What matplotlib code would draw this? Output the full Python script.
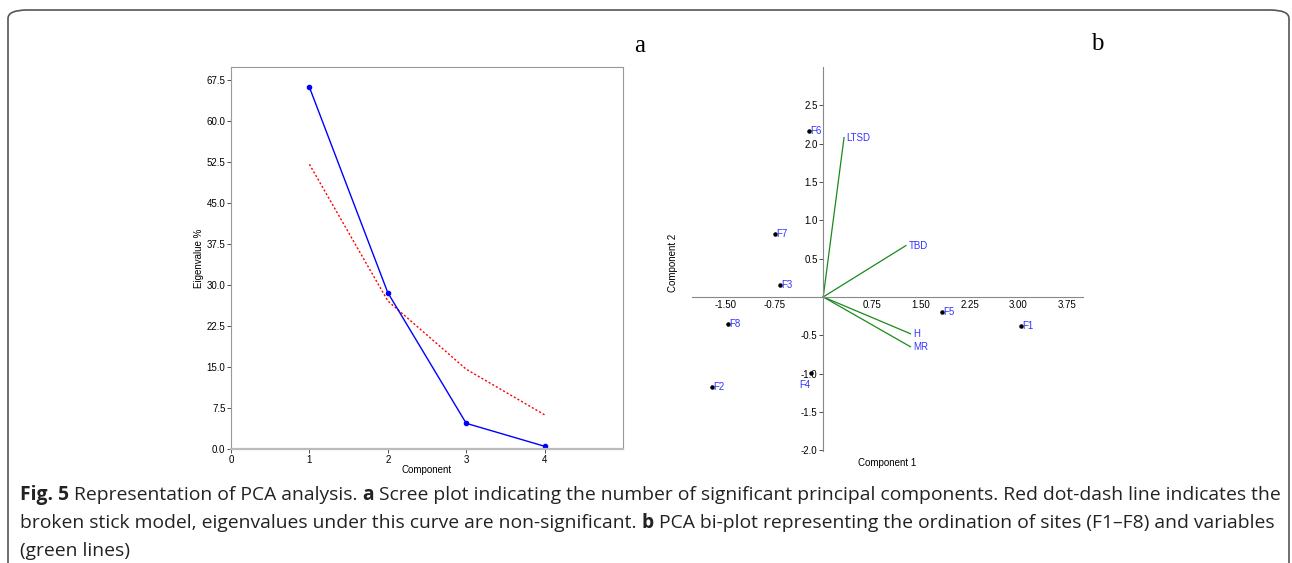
import matplotlib
matplotlib.use("Agg")
import matplotlib.pyplot as plt
from matplotlib.patches import FancyBboxPatch

# scree plot data
components = [1, 2, 3, 4]
eigen_pct = [66.2, 28.6, 4.7, 0.5]
broken_stick = [52.1, 27.1, 14.6, 6.25]

# biplot sites
site_names = ['F1', 'F2', 'F3', 'F4', 'F5', 'F6', 'F7', 'F8']
site_x = [3.04, -1.71, -0.66, -0.18, 1.83, -0.22, -0.74, -1.46]
site_y = [-0.38, -1.17, 0.15, -0.99, -0.20, 2.17, 0.82, -0.35]

# biplot variables (loadings scaled)
var_names = ['LTSD', 'TBD', 'H', 'MR']
var_x = [0.32, 1.27, 1.34, 1.34]
var_y = [2.08, 0.67, -0.48, -0.65]

caption_lines = [
    [('Fig. 5', True), (' Representation of PCA analysis. ', False), ('a', True),
     (' Scree plot indicating the number of significant principal components. Red dot-dash line indicates the', False)],
    [('broken stick model, eigenvalues under this curve are non-significant. ', False), ('b', True),
     (' PCA bi-plot representing the ordination of sites (F1\u2013F8) and variables', False)],
    [('(green lines)', False)],
]

plt.rcParams['font.family'] = ['Liberation Sans', 'DejaVu Sans']

W, H = 1292, 563
fig = plt.figure(figsize=(W / 100, H / 100), dpi=100)

# rounded frame around the figure
frame = FancyBboxPatch((8 / W, -0.05), (1281 / W), 1 - 10 / H + 0.05,
                       boxstyle="round,pad=0,rounding_size=0.015",
                       transform=fig.transFigure, fill=False,
                       edgecolor='#555555', linewidth=1.2)
fig.patches.append(frame)

lab_size = 7

# ---- panel a: scree plot ----
ax1 = fig.add_axes([231 / W, 1 - 449 / H, 392 / W, 382 / H])
ax1.plot(components, broken_stick, color='red', linestyle=(0, (1.5, 1.5)), linewidth=1.0)
ax1.plot(components, eigen_pct, color='#0000ff', linewidth=1.0, marker='o', markersize=3)
ax1.set_xlim(0, 5)
ax1.set_ylim(0, 69.9)
ax1.set_xticks([0, 1, 2, 3, 4])
ax1.set_yticks([0, 7.5, 15, 22.5, 30, 37.5, 45, 52.5, 60, 67.5])
ax1.set_yticklabels(['%.1f' % v for v in ax1.get_yticks()])
ax1.tick_params(labelsize=lab_size, length=3, width=0.6, color='#333333', pad=1)
for s in ['top', 'right', 'left']:
    ax1.spines[s].set_color('#999999')
    ax1.spines[s].set_linewidth(0.8)
ax1.spines['bottom'].set_color('#bbbbbb')
ax1.spines['bottom'].set_linewidth(1.6)
ax1.set_xlabel('Component', fontsize=lab_size, labelpad=0)
ax1.set_ylabel('Eigenvalue %', fontsize=lab_size, labelpad=2)

# ---- panel b: biplot ----
ax2 = fig.add_axes([691.7 / W, 1 - 451 / H, 391.3 / W, 384 / H])
ax2.set_xlim(-2.02, 3.99)
ax2.set_ylim(-2.01, 3.0)
for s in ['top', 'right']:
    ax2.spines[s].set_visible(False)
for s in ['left', 'bottom']:
    ax2.spines[s].set_position(('data', 0))
    ax2.spines[s].set_color('#888888')
    ax2.spines[s].set_linewidth(0.8)
xt = [-1.5, -0.75, 0.75, 1.5, 2.25, 3.0, 3.75]
yt = [-2.0, -1.5, -1.0, -0.5, 0.5, 1.0, 1.5, 2.0, 2.5]
ax2.set_xticks(xt)
ax2.set_xticklabels(['%.2f' % v for v in xt])
ax2.set_yticks(yt)
ax2.set_yticklabels(['%.1f' % v for v in yt])
ax2.tick_params(labelsize=lab_size, length=3, width=0.6, color='#333333', pad=1)
ax2.tick_params(axis='x', length=0, pad=2)

for name, vx, vy in zip(var_names, var_x, var_y):
    ax2.plot([0, vx], [0, vy], color='#1a8a1a', linewidth=0.9)
    ax2.text(vx + 0.04, vy, name, color='#3333ff', fontsize=lab_size, va='center', ha='left')

ax2.scatter(site_x, site_y, s=5, color='black', zorder=3)
for name, sx, sy in zip(site_names, site_x, site_y):
    if name == 'F4':
        ax2.text(sx - 0.02, sy - 0.09, name, color='#3333ff', fontsize=lab_size, va='top', ha='right')
    else:
        ax2.text(sx + 0.02, sy, name, color='#3333ff', fontsize=lab_size, va='center', ha='left')

fig.text(887 / W, 1 - 463 / H, 'Component 1', fontsize=lab_size, ha='center', va='center')
fig.text(673 / W, 1 - 263 / H, 'Component 2', fontsize=lab_size, ha='center', va='center', rotation=90)

# panel letters
fig.text(640 / W, 1 - 46 / H, 'a', fontsize=18, family='Liberation Serif', ha='center', va='center')
fig.text(1097 / W, 1 - 44 / H, 'b', fontsize=18, family='Liberation Serif', ha='center', va='center')

# caption with bold runs, sized so the first line fills its width
renderer = fig.canvas.get_renderer()
cap_font = 'Open Sans'
target = 1256.0


def line_width(parts, size):
    total = 0
    for txt, bold in parts:
        t = fig.text(0, 0, txt, fontsize=size, family=cap_font,
                     fontweight='bold' if bold else 'normal')
        total += t.get_window_extent(renderer).width
        t.remove()
    return total


size = 11.0
size = size * target / line_width(caption_lines[0], size)

ys = [495, 523, 551]
for parts, yy in zip(caption_lines, ys):
    x = 20 / W
    for txt, bold in parts:
        t = fig.text(x, 1 - yy / H, txt, fontsize=size, family=cap_font,
                     fontweight='bold' if bold else 'normal', va='center', ha='left',
                     color='#222222')
        x += t.get_window_extent(renderer).width / W

fig.savefig('out.png', dpi=100)
